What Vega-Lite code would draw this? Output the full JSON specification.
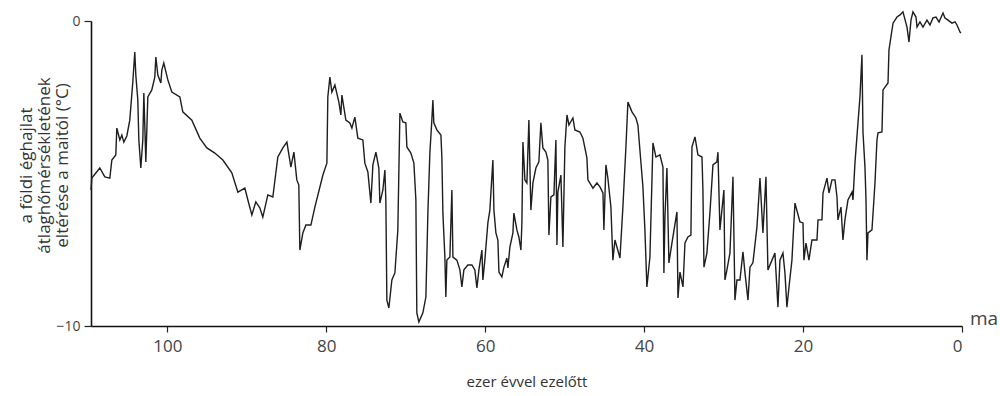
{
  "$schema": "https://vega.github.io/schema/vega-lite/v6.json",
  "width": 871,
  "height": 305,
  "autosize": "none",
  "padding": {"left": 91, "top": 21, "right": 38, "bottom": 70},
  "background": "white",
  "config": {"view": {"stroke": null}, "font": "Open Sans"},
  "datasets": {
    "temp": [
      {"t":109.6,"v":-5.54},{"t":109.5,"v":-5.15},{"t":108.49,"v":-4.82},{"t":107.86,"v":-5.11},{"t":107.23,"v":-5.15},{"t":106.98,"v":-4.56},{"t":106.48,"v":-4.39},{"t":106.35,"v":-3.51},{"t":105.97,"v":-3.9},{"t":105.72,"v":-3.74},{"t":105.47,"v":-3.97},{"t":105.09,"v":-3.77},{"t":104.72,"v":-3.25},{"t":104.34,"v":-2.0},{"t":104.09,"v":-1.02},{"t":103.96,"v":-1.77},{"t":103.71,"v":-2.59},{"t":103.58,"v":-3.9},{"t":103.33,"v":-4.82},{"t":103.08,"v":-3.9},{"t":102.95,"v":-2.36},{"t":102.7,"v":-4.62},{"t":102.45,"v":-2.49},{"t":101.95,"v":-2.26},{"t":101.57,"v":-1.84},{"t":101.44,"v":-1.18},{"t":101.19,"v":-1.77},{"t":100.81,"v":-2.03},{"t":100.69,"v":-1.61},{"t":100.44,"v":-1.38},{"t":99.93,"v":-1.93},{"t":99.43,"v":-2.33},{"t":98.42,"v":-2.49},{"t":98.05,"v":-2.98},{"t":96.91,"v":-3.25},{"t":95.91,"v":-3.84},{"t":95.02,"v":-4.16},{"t":94.02,"v":-4.33},{"t":93.01,"v":-4.56},{"t":91.88,"v":-4.98},{"t":91.12,"v":-5.61},{"t":90.24,"v":-5.48},{"t":89.86,"v":-5.87},{"t":89.36,"v":-6.36},{"t":88.86,"v":-5.93},{"t":88.35,"v":-6.13},{"t":87.98,"v":-6.43},{"t":87.35,"v":-5.7},{"t":86.72,"v":-5.77},{"t":86.09,"v":-4.46},{"t":85.46,"v":-4.16},{"t":84.95,"v":-3.97},{"t":84.45,"v":-4.79},{"t":84.07,"v":-4.3},{"t":83.7,"v":-5.21},{"t":83.45,"v":-5.38},{"t":83.32,"v":-7.51},{"t":82.94,"v":-6.95},{"t":82.56,"v":-6.69},{"t":81.93,"v":-6.69},{"t":81.43,"v":-6.1},{"t":80.42,"v":-5.05},{"t":79.92,"v":-4.66},{"t":79.8,"v":-2.49},{"t":79.54,"v":-1.84},{"t":79.29,"v":-2.33},{"t":78.91,"v":-2.1},{"t":78.41,"v":-2.66},{"t":78.16,"v":-3.08},{"t":78.03,"v":-2.43},{"t":77.53,"v":-3.25},{"t":77.03,"v":-3.34},{"t":76.77,"v":-3.51},{"t":76.4,"v":-3.15},{"t":76.02,"v":-3.84},{"t":75.39,"v":-3.9},{"t":75.14,"v":-4.66},{"t":74.76,"v":-4.95},{"t":74.38,"v":-5.97},{"t":74.13,"v":-4.72},{"t":73.75,"v":-4.3},{"t":73.38,"v":-4.82},{"t":73.25,"v":-5.97},{"t":72.87,"v":-5.54},{"t":72.62,"v":-4.89},{"t":72.5,"v":-5.87},{"t":72.37,"v":-9.15},{"t":72.12,"v":-9.41},{"t":71.74,"v":-8.49},{"t":71.36,"v":-8.26},{"t":70.99,"v":-6.85},{"t":70.73,"v":-3.02},{"t":70.36,"v":-3.31},{"t":69.98,"v":-3.34},{"t":69.85,"v":-4.13},{"t":69.35,"v":-4.33},{"t":68.97,"v":-4.66},{"t":68.72,"v":-5.87},{"t":68.6,"v":-9.57},{"t":68.34,"v":-9.87},{"t":67.84,"v":-9.57},{"t":67.46,"v":-9.05},{"t":67.21,"v":-6.3},{"t":66.96,"v":-4.33},{"t":66.71,"v":-3.25},{"t":66.58,"v":-2.59},{"t":66.46,"v":-3.34},{"t":66.08,"v":-3.57},{"t":65.57,"v":-3.74},{"t":65.45,"v":-4.46},{"t":65.32,"v":-6.3},{"t":65.07,"v":-7.74},{"t":64.95,"v":-9.05},{"t":64.82,"v":-7.84},{"t":64.44,"v":-7.74},{"t":64.19,"v":-5.54},{"t":64.06,"v":-7.74},{"t":63.56,"v":-7.84},{"t":63.18,"v":-8.16},{"t":62.93,"v":-8.72},{"t":62.68,"v":-8.16},{"t":62.18,"v":-8.0},{"t":61.67,"v":-8.0},{"t":61.3,"v":-8.16},{"t":61.04,"v":-8.75},{"t":60.79,"v":-8.16},{"t":60.41,"v":-7.51},{"t":60.29,"v":-8.49},{"t":60.04,"v":-7.84},{"t":59.66,"v":-6.62},{"t":59.41,"v":-6.2},{"t":59.03,"v":-4.56},{"t":58.9,"v":-6.2},{"t":58.65,"v":-6.95},{"t":58.4,"v":-7.18},{"t":58.27,"v":-8.23},{"t":57.9,"v":-8.39},{"t":57.64,"v":-8.07},{"t":57.27,"v":-7.77},{"t":57.14,"v":-8.1},{"t":56.89,"v":-7.41},{"t":56.51,"v":-6.95},{"t":56.39,"v":-6.3},{"t":56.01,"v":-6.85},{"t":55.76,"v":-7.08},{"t":55.5,"v":-7.51},{"t":55.38,"v":-6.62},{"t":55.25,"v":-3.97},{"t":55.0,"v":-5.21},{"t":54.75,"v":-5.31},{"t":54.5,"v":-3.25},{"t":54.25,"v":-6.2},{"t":53.99,"v":-5.31},{"t":53.62,"v":-4.82},{"t":53.24,"v":-4.62},{"t":52.99,"v":-3.34},{"t":52.74,"v":-4.16},{"t":52.36,"v":-4.3},{"t":52.11,"v":-4.56},{"t":51.98,"v":-7.02},{"t":51.73,"v":-5.77},{"t":51.35,"v":-5.7},{"t":51.1,"v":-3.9},{"t":50.97,"v":-7.34},{"t":50.85,"v":-5.61},{"t":50.47,"v":-5.05},{"t":50.22,"v":-7.41},{"t":49.97,"v":-4.13},{"t":49.71,"v":-3.08},{"t":49.46,"v":-3.41},{"t":48.96,"v":-3.18},{"t":48.71,"v":-3.57},{"t":48.08,"v":-3.64},{"t":47.7,"v":-3.84},{"t":47.2,"v":-4.49},{"t":47.07,"v":-5.21},{"t":46.44,"v":-5.48},{"t":45.94,"v":-5.31},{"t":45.56,"v":-5.44},{"t":45.18,"v":-5.64},{"t":45.06,"v":-6.85},{"t":44.81,"v":-4.72},{"t":44.56,"v":-5.15},{"t":44.18,"v":-6.1},{"t":43.93,"v":-7.84},{"t":43.67,"v":-7.18},{"t":43.42,"v":-7.41},{"t":43.04,"v":-7.77},{"t":42.67,"v":-6.1},{"t":42.29,"v":-4.13},{"t":42.04,"v":-2.66},{"t":41.53,"v":-2.98},{"t":41.03,"v":-3.18},{"t":40.78,"v":-3.41},{"t":40.53,"v":-4.23},{"t":40.15,"v":-5.44},{"t":39.9,"v":-6.85},{"t":39.65,"v":-8.72},{"t":39.27,"v":-7.74},{"t":38.89,"v":-4.0},{"t":38.51,"v":-4.46},{"t":38.01,"v":-4.39},{"t":37.63,"v":-4.79},{"t":37.51,"v":-8.26},{"t":37.38,"v":-6.43},{"t":37.13,"v":-4.82},{"t":36.88,"v":-7.93},{"t":36.5,"v":-7.28},{"t":35.87,"v":-6.26},{"t":35.74,"v":-9.08},{"t":35.49,"v":-8.23},{"t":35.11,"v":-8.72},{"t":34.86,"v":-7.28},{"t":34.49,"v":-7.08},{"t":34.11,"v":-7.02},{"t":33.98,"v":-4.13},{"t":33.6,"v":-3.8},{"t":33.23,"v":-4.39},{"t":32.72,"v":-4.46},{"t":32.6,"v":-5.54},{"t":32.47,"v":-8.07},{"t":32.1,"v":-7.61},{"t":31.72,"v":-6.3},{"t":31.34,"v":-4.72},{"t":30.84,"v":-4.62},{"t":30.71,"v":-4.3},{"t":30.46,"v":-6.85},{"t":29.96,"v":-5.54},{"t":29.83,"v":-8.49},{"t":29.58,"v":-8.16},{"t":29.2,"v":-7.61},{"t":28.82,"v":-5.11},{"t":28.57,"v":-9.15},{"t":28.32,"v":-8.49},{"t":27.94,"v":-8.49},{"t":27.56,"v":-7.57},{"t":27.31,"v":-8.26},{"t":26.93,"v":-9.15},{"t":26.68,"v":-8.07},{"t":26.31,"v":-7.93},{"t":25.8,"v":-6.75},{"t":25.42,"v":-5.15},{"t":25.05,"v":-6.95},{"t":24.67,"v":-5.11},{"t":24.42,"v":-8.16},{"t":23.91,"v":-7.84},{"t":23.54,"v":-7.61},{"t":23.16,"v":-9.38},{"t":22.91,"v":-7.84},{"t":22.53,"v":-7.61},{"t":22.28,"v":-8.26},{"t":22.03,"v":-9.38},{"t":21.77,"v":-8.72},{"t":21.4,"v":-7.84},{"t":21.02,"v":-5.97},{"t":20.39,"v":-6.59},{"t":20.01,"v":-6.62},{"t":19.89,"v":-7.84},{"t":19.63,"v":-7.28},{"t":19.26,"v":-7.84},{"t":18.88,"v":-7.18},{"t":18.25,"v":-7.18},{"t":18.12,"v":-6.52},{"t":17.62,"v":-6.52},{"t":17.49,"v":-5.64},{"t":16.99,"v":-5.15},{"t":16.74,"v":-5.64},{"t":16.36,"v":-5.21},{"t":15.98,"v":-5.21},{"t":15.73,"v":-5.77},{"t":15.61,"v":-6.52},{"t":15.23,"v":-6.1},{"t":14.98,"v":-7.18},{"t":14.73,"v":-6.52},{"t":14.35,"v":-5.87},{"t":13.84,"v":-5.61},{"t":13.72,"v":-5.87},{"t":13.47,"v":-4.66},{"t":13.09,"v":-3.34},{"t":12.84,"v":-2.49},{"t":12.59,"v":-1.11},{"t":12.46,"v":-3.64},{"t":12.21,"v":-4.79},{"t":12.08,"v":-5.87},{"t":11.96,"v":-7.84},{"t":11.83,"v":-6.95},{"t":11.33,"v":-6.85},{"t":10.95,"v":-5.31},{"t":10.7,"v":-3.9},{"t":10.57,"v":-3.67},{"t":10.07,"v":-3.64},{"t":9.94,"v":-2.26},{"t":9.31,"v":-2.03},{"t":9.19,"v":-0.95},{"t":8.68,"v":-0.07},{"t":8.18,"v":0.13},{"t":7.8,"v":0.2},{"t":7.43,"v":0.3},{"t":6.92,"v":-0.2},{"t":6.67,"v":-0.69},{"t":6.42,"v":0.03},{"t":6.17,"v":0.3},{"t":5.79,"v":0.13},{"t":5.66,"v":-0.2},{"t":5.29,"v":-0.03},{"t":4.91,"v":-0.2},{"t":4.41,"v":0.03},{"t":4.03,"v":-0.13},{"t":3.65,"v":0.1},{"t":3.27,"v":0.13},{"t":2.89,"v":-0.03},{"t":2.39,"v":0.26},{"t":2.14,"v":0.1},{"t":1.76,"v":0.03},{"t":1.26,"v":-0.07},{"t":0.88,"v":-0.03},{"t":0.63,"v":-0.13},{"t":0.25,"v":-0.36},{"t":0.13,"v":-0.39}
    ],
    "label": [{"t": 0, "v": -10, "txt": "ma"}]
  },
  "layer": [
    {
      "data": {"name": "temp"},
      "mark": {"type": "line", "color": "#1e1e1e", "strokeWidth": 1.4, "interpolate": "linear"},
      "encoding": {
        "x": {
          "field": "t", "type": "quantitative",
          "scale": {"domain": [0, 109.6], "reverse": true, "nice": false, "zero": false},
          "axis": {
            "values": [100, 80, 60, 40, 20, 0],
            "title": "ezer évvel ezelőtt",
            "titleFont": "Open Sans", "titleFontSize": 15, "titleFontWeight": "normal", "titleColor": "#333",
            "titlePadding": 20,
            "labelFont": "Open Sans", "labelFontSize": 17, "labelColor": "#444", "labelPadding": 6,
            "tickSize": 6, "tickColor": "#222", "tickWidth": 1.2,
            "domainColor": "#111", "domainWidth": 1.6, "grid": false
          }
        },
        "y": {
          "field": "v", "type": "quantitative",
          "scale": {"domain": [-10, 0], "nice": false, "zero": false},
          "axis": {
            "values": [0, -10],
            "title": ["a földi éghajlat", "átlaghőmérsékletének", "eltérése a maitól (°C)"],
            "titleFont": "Open Sans", "titleFontSize": 17, "titleFontWeight": "normal", "titleColor": "#333",
            "titleLineHeight": 18, "titleAngle": -90, "titleBaseline": "top", "titleAlign": "center",
            "titleX": -73, "titleY": 144,
            "labelFont": "Open Sans", "labelFontSize": 14, "labelColor": "#444", "labelPadding": 4,
            "tickSize": 7, "tickColor": "#222", "tickWidth": 1.2,
            "domainColor": "#111", "domainWidth": 1.6, "grid": false
          }
        }
      }
    },
    {
      "data": {"name": "label"},
      "mark": {"type": "text", "align": "left", "baseline": "alphabetic", "dx": 8, "dy": -1, "font": "Open Sans", "fontSize": 19, "color": "#444"},
      "encoding": {
        "x": {"field": "t", "type": "quantitative"},
        "y": {"field": "v", "type": "quantitative"},
        "text": {"field": "txt"}
      }
    }
  ]
}
